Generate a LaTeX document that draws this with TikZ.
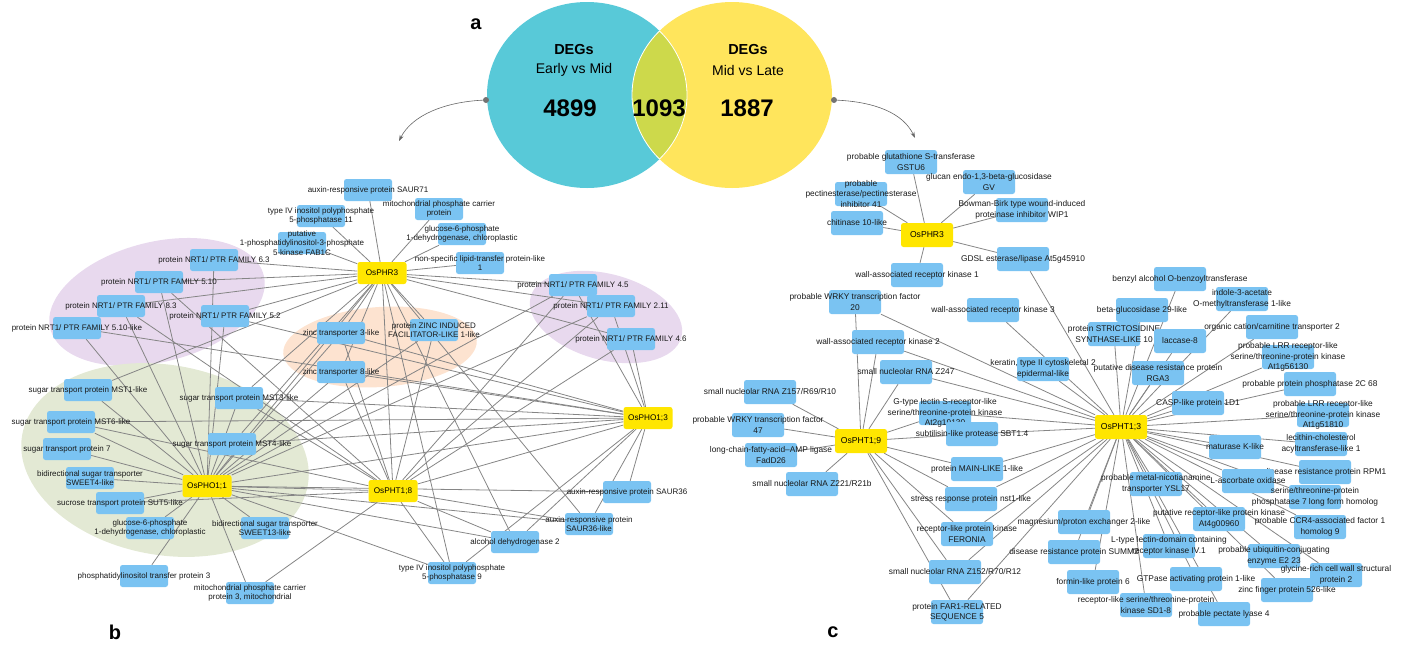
\documentclass[tikz,border=0pt]{standalone}
\usepackage{fontspec}
\setmainfont{Liberation Sans}
\usetikzlibrary{arrows.meta}
\definecolor{geneblue}{HTML}{7AC3F2}
\definecolor{hubyellow}{HTML}{FFE600}
\definecolor{edgegray}{HTML}{858585}
\definecolor{earlyfill}{HTML}{58C9D8}
\definecolor{latefill}{HTML}{FFE55C}
\definecolor{bothfill}{HTML}{CDD94B}
\definecolor{nrtfill}{HTML}{E8D9EE}
\definecolor{zincfill}{HTML}{FDE3D0}
\definecolor{sugarfill}{HTML}{E3E9D4}
\pgfdeclarelayer{back}
\pgfdeclarelayer{edges}
\pgfsetlayers{back,edges,main}

\begin{document}
\begin{tikzpicture}[
    x=1pt, y=-1pt,
    geneb/.style={fill=geneblue, rounded corners=2.5pt, minimum width=48, minimum height=22, inner sep=0pt},
    genec/.style={fill=geneblue, rounded corners=2.5pt, minimum width=52, minimum height=24, inner sep=0pt},
    hubb/.style={fill=hubyellow, rounded corners=2.5pt, minimum width=49, minimum height=22, inner sep=0pt, font=\fontsize{8.2}{9}\selectfont},
    hubc/.style={fill=hubyellow, rounded corners=2.5pt, minimum width=52, minimum height=24, inner sep=0pt, font=\fontsize{8.6}{9}\selectfont},
    lblb/.style={font=\fontsize{8}{9.6}\selectfont, align=center, inner sep=0pt, text=black!90},
    lblc/.style={font=\fontsize{8.35}{10.4}\selectfont, align=center, inner sep=0pt, text=black!90},
    edge/.style={draw=edgegray, line width=0.8pt},
    setname/.style={font=\fontsize{14.5}{16}\selectfont\bfseries},
    setsub/.style={font=\fontsize{14}{16}\selectfont},
    setnum/.style={font=\fontsize{24}{26}\selectfont\bfseries},
    panel/.style={font=\fontsize{20}{22}\selectfont\bfseries},
    pin/.style={circle, fill=black!55, inner sep=0pt, minimum size=6},
    link/.style={draw=black!60, line width=0.6pt, -{Stealth[length=6pt, width=4pt]}}
]
\useasboundingbox (0,0) rectangle (1402,646);

% Venn diagram
\fill[earlyfill] (587,95) ellipse [x radius=100, y radius=93];
\fill[latefill] (732,95) ellipse [x radius=100, y radius=93];
\begin{scope}
  \clip (587,95) ellipse [x radius=100, y radius=93];
  \fill[bothfill] (732,95) ellipse [x radius=100, y radius=93];
  \draw[white, line width=0.8pt] (732,95) ellipse [x radius=100, y radius=93];
\end{scope}
\begin{scope}
  \clip (732,95) ellipse [x radius=100, y radius=93];
  \draw[white, line width=0.8pt] (587,95) ellipse [x radius=100, y radius=93];
\end{scope}
\node[panel] (panela) at (476,24) {a};
\node[setname] (degsearly) at (574,50) {DEGs};
\node[setsub] (earlymid) at (574,70) {Early vs Mid};
\node[setnum] (n4899) at (570,108) {4899};
\node[setnum] (n1093) at (659,108) {1093};
\node[setname] (degslate) at (748,50) {DEGs};
\node[setsub] (midlate) at (748,70) {Mid vs Late};
\node[setnum] (n1887) at (747,108) {1887};

% pointers to the two networks
\node[pin] (pinb) at (486,100) {};
\node[pin] (pinc) at (834,100) {};
\coordinate (tipb) at (399,141);
\coordinate (tipc) at (915,138);
\draw[link] (pinb) .. controls (445,102) and (412,115) .. (tipb);
\draw[link] (pinc) .. controls (875,102) and (903,113) .. (tipc);

\node[panel] (panelb) at (115,632) {b};
\node[panel] (panelc) at (833,632) {c};

% clusters behind network b
\begin{pgfonlayer}{back}
  \fill[nrtfill] (157,302) ellipse [x radius=110, y radius=60, rotate=14];
  \fill[nrtfill] (606,317) ellipse [x radius=78, y radius=43, rotate=-15];
  \fill[zincfill] (380,347) ellipse [x radius=97, y radius=40, rotate=4];
  \fill[sugarfill] (165,460) ellipse [x radius=145, y radius=95, rotate=-10];
\end{pgfonlayer}

% Network b
\node[geneb, label={[lblb]center:{auxin-responsive protein SAUR71}}] (saur71) at (368,190) {};
\node[geneb, label={[lblb]center:{type IV inositol polyphosphate\\5-phosphatase 11}}] (inos11) at (321,216) {};
\node[geneb, label={[lblb]center:{mitochondrial phosphate carrier\\protein}}] (mitob) at (439,209) {};
\node[geneb, label={[lblb]center:{glucose-6-phosphate\\1-dehydrogenase, chloroplastic}}] (gsixa) at (462,234) {};
\node[geneb, label={[lblb]center:{putative\\1-phosphatidylinositol-3-phosphate\\5-kinase FAB1C}}] (fab1c) at (302,243) {};
\node[geneb, label={[lblb]center:{non-specific lipid-transfer protein-like\\1}}] (nsltp) at (480,263) {};
\node[geneb, label={[lblb]center:{protein NRT1/ PTR FAMILY 6.3}}] (nrt63) at (214,260) {};
\node[geneb, label={[lblb]center:{protein NRT1/ PTR FAMILY 5.10}}] (nrt510) at (159,282) {};
\node[geneb, label={[lblb]center:{protein NRT1/ PTR FAMILY 8.3}}] (nrt83) at (121,306) {};
\node[geneb, label={[lblb]center:{protein NRT1/ PTR FAMILY 5.10-like}}] (nrt510l) at (77,328) {};
\node[geneb, label={[lblb]center:{protein NRT1/ PTR FAMILY 5.2}}] (nrt52) at (225,316) {};
\node[geneb, label={[lblb]center:{protein NRT1/ PTR FAMILY 4.5}}] (nrt45) at (573,285) {};
\node[geneb, label={[lblb]center:{protein NRT1/ PTR FAMILY 2.11}}] (nrt211) at (611,306) {};
\node[geneb, label={[lblb]center:{protein NRT1/ PTR FAMILY 4.6}}] (nrt46) at (631,339) {};
\node[geneb, label={[lblb]center:{zinc transporter 3-like}}] (zt3) at (341,333) {};
\node[geneb, label={[lblb]center:{protein ZINC INDUCED\\FACILITATOR-LIKE 1-like}}] (zif) at (434,330) {};
\node[geneb, label={[lblb]center:{zinc transporter 8-like}}] (zt8) at (341,372) {};
\node[geneb, label={[lblb]center:{sugar transport protein MST3-like}}] (mst3) at (239,398) {};
\node[geneb, label={[lblb]center:{sugar transport protein MST4-like}}] (mst4) at (232,444) {};
\node[geneb, label={[lblb]center:{sugar transport protein MST1-like}}] (mst1) at (88,390) {};
\node[geneb, label={[lblb]center:{sugar transport protein MST6-like}}] (mst6) at (71,422) {};
\node[geneb, label={[lblb]center:{sugar transport protein 7}}] (stp7) at (67,449) {};
\node[geneb, label={[lblb]center:{bidirectional sugar transporter\\SWEET4-like}}] (sweet4) at (90,478) {};
\node[geneb, label={[lblb]center:{sucrose transport protein SUT5-like}}] (sut5) at (120,503) {};
\node[geneb, label={[lblb]center:{glucose-6-phosphate\\1-dehydrogenase, chloroplastic}}] (gsixb) at (150,528) {};
\node[geneb, label={[lblb]center:{bidirectional sugar transporter\\SWEET13-like}}] (sweet13) at (265,528) {};
\node[geneb, label={[lblb]center:{phosphatidylinositol transfer protein 3}}] (pitp3) at (144,576) {};
\node[geneb, label={[lblb]center:{mitochondrial phosphate carrier\\protein 3, mitochondrial}}] (mitoc) at (250,593) {};
\node[geneb, label={[lblb]center:{auxin-responsive protein SAUR36}}] (saur36) at (627,492) {};
\node[geneb, label={[lblb]center:{auxin-responsive protein\\SAUR36-like}}] (saur36l) at (589,524) {};
\node[geneb, label={[lblb]center:{alcohol dehydrogenase 2}}] (adh2) at (515,542) {};
\node[geneb, label={[lblb]center:{type IV inositol polyphosphate\\5-phosphatase 9}}] (inos9) at (452,573) {};
\node[hubb] (phrb) at (382,273) {OsPHR3};
\node[hubb] (pho13) at (648,418) {OsPHO1;3};
\node[hubb] (pho11) at (207,486) {OsPHO1;1};
\node[hubb] (pht18) at (393,491) {OsPHT1;8};

% Network c
\node[genec, label={[lblc]center:{probable glutathione S-transferase\\GSTU6}}] (gstu6) at (911,162) {};
\node[genec, label={[lblc]center:{glucan endo-1,3-beta-glucosidase\\GV}}] (glucgv) at (989,182) {};
\node[genec, label={[lblc]center:{probable\\pectinesterase/pectinesterase\\inhibitor 41}}] (pme41) at (861,194) {};
\node[genec, label={[lblc]center:{Bowman-Birk type wound-induced\\proteinase inhibitor WIP1}}] (wip1) at (1022,210) {};
\node[genec, label={[lblc]center:{chitinase 10-like}}] (chit10) at (857,223) {};
\node[genec, label={[lblc]center:{GDSL esterase/lipase At5g45910}}] (gdsl) at (1023,259) {};
\node[genec, label={[lblc]center:{wall-associated receptor kinase 1}}] (wak1) at (917,275) {};
\node[genec, label={[lblc]center:{probable WRKY transcription factor\\20}}] (wrky20) at (855,302) {};
\node[genec, label={[lblc]center:{wall-associated receptor kinase 3}}] (wak3) at (993,310) {};
\node[genec, label={[lblc]center:{wall-associated receptor kinase 2}}] (wak2) at (878,342) {};
\node[genec, label={[lblc]center:{small nucleolar RNA Z247}}] (z247) at (906,372) {};
\node[genec, label={[lblc]center:{keratin, type II cytoskeletal 2\\epidermal-like}}] (kera) at (1043,369) {};
\node[genec, label={[lblc]center:{G-type lectin S-receptor-like\\serine/threonine-protein kinase\\At2g19130}}] (glec) at (945,413) {};
\node[genec, label={[lblc]center:{subtilisin-like protease SBT1.4}}] (sbt14) at (972,434) {};
\node[genec, label={[lblc]center:{small nucleolar RNA Z157/R69/R10}}] (z157) at (770,392) {};
\node[genec, label={[lblc]center:{probable WRKY transcription factor\\47}}] (wrky47) at (758,425) {};
\node[genec, label={[lblc]center:{long-chain-fatty-acid--AMP ligase\\FadD26}}] (fadd26) at (771,455) {};
\node[genec, label={[lblc]center:{small nucleolar RNA Z221/R21b}}] (z221) at (812,484) {};
\node[genec, label={[lblc]center:{protein MAIN-LIKE 1-like}}] (main1) at (977,469) {};
\node[genec, label={[lblc]center:{stress response protein nst1-like}}] (nst1) at (971,499) {};
\node[genec, label={[lblc]center:{receptor-like protein kinase\\FERONIA}}] (fer) at (967,534) {};
\node[genec, label={[lblc]center:{small nucleolar RNA Z152/R70/R12}}] (z152) at (955,572) {};
\node[genec, label={[lblc]center:{protein FAR1-RELATED\\SEQUENCE 5}}] (far1) at (957,612) {};
\node[genec, label={[lblc]center:{benzyl alcohol O-benzoyltransferase}}] (bebt) at (1180,279) {};
\node[genec, label={[lblc]center:{indole-3-acetate\\O-methyltransferase 1-like}}] (iamt) at (1242,299) {};
\node[genec, label={[lblc]center:{beta-glucosidase 29-like}}] (bglu29) at (1142,310) {};
\node[genec, label={[lblc]center:{organic cation/carnitine transporter 2}}] (oct2) at (1272,327) {};
\node[genec, label={[lblc]center:{protein STRICTOSIDINE\\SYNTHASE-LIKE 10}}] (ssl10) at (1114,334) {};
\node[genec, label={[lblc]center:{laccase-8}}] (lac8) at (1180,341) {};
\node[genec, label={[lblc]center:{probable LRR receptor-like\\serine/threonine-protein kinase\\At1g56130}}] (lrra) at (1288,357) {};
\node[genec, label={[lblc]center:{putative disease resistance protein\\RGA3}}] (rga3) at (1158,373) {};
\node[genec, label={[lblc]center:{probable protein phosphatase 2C 68}}] (pp2c) at (1310,384) {};
\node[genec, label={[lblc]center:{CASP-like protein 1D1}}] (casp) at (1198,403) {};
\node[genec, label={[lblc]center:{probable LRR receptor-like\\serine/threonine-protein kinase\\At1g51810}}] (lrrb) at (1323,415) {};
\node[genec, label={[lblc]center:{lecithin-cholesterol\\acyltransferase-like 1}}] (lcat) at (1321,444) {};
\node[genec, label={[lblc]center:{maturase K-like}}] (matk) at (1235,447) {};
\node[genec, label={[lblc]center:{disease resistance protein RPM1}}] (rpm1) at (1325,472) {};
\node[genec, label={[lblc]center:{L-ascorbate oxidase}}] (lasc) at (1248,481) {};
\node[genec, label={[lblc]center:{probable metal-nicotianamine\\transporter YSL17}}] (ysl17) at (1156,484) {};
\node[genec, label={[lblc]center:{serine/threonine-protein\\phosphatase 7 long form homolog}}] (ppo7) at (1315,497) {};
\node[genec, label={[lblc]center:{magnesium/proton exchanger 2-like}}] (mhx) at (1084,522) {};
\node[genec, label={[lblc]center:{putative receptor-like protein kinase\\At4g00960}}] (at4g) at (1219,519) {};
\node[genec, label={[lblc]center:{probable CCR4-associated factor 1\\homolog 9}}] (ccr4) at (1320,527) {};
\node[genec, label={[lblc]center:{disease resistance protein SUMM2}}] (summ2) at (1074,552) {};
\node[genec, label={[lblc]center:{L-type lectin-domain containing\\receptor kinase IV.1}}] (lect) at (1169,546) {};
\node[genec, label={[lblc]center:{probable ubiquitin-conjugating\\enzyme E2 23}}] (ube2) at (1274,556) {};
\node[genec, label={[lblc]center:{formin-like protein 6}}] (formin) at (1093,582) {};
\node[genec, label={[lblc]center:{GTPase activating protein 1-like}}] (gap1) at (1196,579) {};
\node[genec, label={[lblc]center:{glycine-rich cell wall structural\\protein 2}}] (grp2) at (1336,575) {};
\node[genec, label={[lblc]center:{zinc finger protein 526-like}}] (znf) at (1287,590) {};
\node[genec, label={[lblc]center:{receptor-like serine/threonine-protein\\kinase SD1-8}}] (sd18) at (1146,605) {};
\node[genec, label={[lblc]center:{probable pectate lyase 4}}] (pel4) at (1224,614) {};
\node[hubc] (phrc) at (927,235) {OsPHR3};
\node[hubc] (pht19) at (861,441) {OsPHT1;9};
\node[hubc] (pht13) at (1121,427) {OsPHT1;3};

% Connections
\begin{pgfonlayer}{edges}
  \foreach \g in {saur71,inos11,mitob,gsixa,fab1c,nsltp,nrt63,nrt510,nrt83,nrt52,nrt45,nrt211,nrt46,zt3,zt8,zif,mst1,mst3,mst4,adh2,inos9,saur36l,pht18,pho11}
    \draw[edge] (phrb) -- (\g);
  \foreach \g in {mst1,mst6,stp7,sweet4,sut5,gsixb,sweet13,pitp3,mitoc,mst3,mst4,nrt510,nrt83,nrt510l,nrt52,nrt63,zt3,zt8,zif,nrt45,nrt211,pht18,adh2,saur36l,saur36,pho13,inos9}
    \draw[edge] (pho11) -- (\g);
  \foreach \g in {nrt46,nrt211,nrt45,saur36,saur36l,adh2,inos9,mst3,mst4,zt8,zt3,nrt52,nrt510l,mst6,pht18}
    \draw[edge] (pho13) -- (\g);
  \foreach \g in {zt3,zt8,zif,nrt45,nrt211,nrt46,mst3,mst6,sut5,saur36l,inos9,nrt510,nrt83,mitoc,adh2}
    \draw[edge] (pht18) -- (\g);
  \foreach \g in {gstu6,glucgv,pme41,wip1,chit10,gdsl,wak1}
    \draw[edge] (phrc) -- (\g);
  \foreach \g in {z157,wrky47,fadd26,z221,wrky20,wak2,z247,glec,sbt14,main1,nst1,fer,z152,far1}
    \draw[edge] (pht19) -- (\g);
  \foreach \g in {gdsl,wrky20,wak2,wak3,z247,kera,glec,sbt14,main1,nst1,fer,z152,far1,bebt,iamt,bglu29,oct2,ssl10,lac8,lrra,rga3,pp2c,casp,lrrb,matk,lcat,rpm1,lasc,ysl17,ppo7,mhx,at4g,ccr4,summ2,lect,ube2,formin,gap1,grp2,znf,sd18,pel4}
    \draw[edge] (pht13) -- (\g);
\end{pgfonlayer}

\end{tikzpicture}
\end{document}
